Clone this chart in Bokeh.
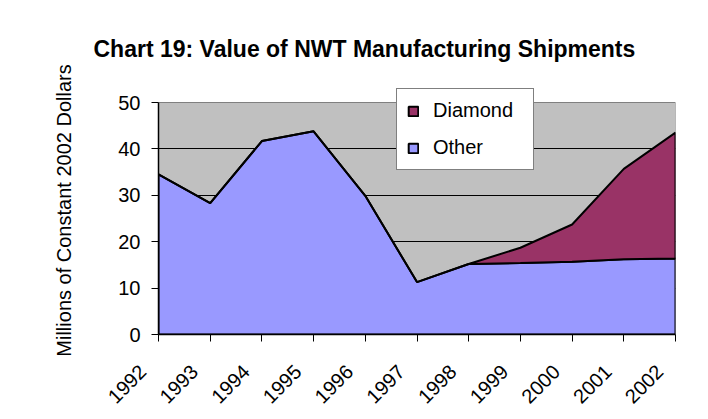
import math
from bokeh.plotting import figure
from bokeh.models import FixedTicker, Range1d, Legend, LegendItem
from bokeh.embed import file_html
from bokeh.resources import INLINE

years = [1992, 1993, 1994, 1995, 1996, 1997, 1998, 1999, 2000, 2001, 2002]
other = [34.5, 28.3, 41.7, 43.8, 29.9, 11.3, 15.2, 15.4, 15.7, 16.2, 16.4]
diamond = [0, 0, 0, 0, 0, 0, 0, 3.3, 8.0, 19.5, 27.1]
y_ticks = [0, 10, 20, 30, 40, 50]

total = [o + d for o, d in zip(other, diamond)]

FONT = "Liberation Sans"

p = figure(width=700, height=419, output_backend="svg", toolbar_location=None,
           x_range=Range1d(years[0], years[-1]), y_range=Range1d(0, 53.45),
           min_border_left=158, min_border_right=25, min_border_top=86, min_border_bottom=85)

p.title.text = "Chart 19: Value of NWT Manufacturing Shipments"
p.title.text_font = FONT
p.title.text_font_size = "23px"
p.title.text_font_style = "bold"
p.title.text_color = "black"
p.title.align = "left"
p.title.offset = -65
p.title.standoff = 49

p.background_fill_color = "white"
p.border_fill_color = "white"
p.outline_line_color = None

# plot area (grey) spanning the category extent and value axis extent
p.quad(left=years[0], right=years[-1], bottom=y_ticks[0], top=y_ticks[-1],
       fill_color="#C0C0C0", line_color="#808080", line_width=1, level="image")

# areas
px_other = years + years[::-1]
py_other = other + [0] * len(years)
r_other = p.patch(px_other, py_other, fill_color="#9999FF", line_color="black", line_width=2)

px_dia = years + years[::-1]
py_dia = total + other[::-1]
r_dia = p.patch(px_dia, py_dia, fill_color="#993366", line_color="black", line_width=2)

p.xgrid.visible = False
p.ygrid.ticker = FixedTicker(ticks=y_ticks[1:-1])
p.ygrid.grid_line_color = "black"
p.ygrid.grid_line_width = 1

p.xaxis.ticker = FixedTicker(ticks=years)
# trailing non-breaking spaces push the rotated labels down-left of their ticks
p.xaxis.major_label_overrides = {y: f"{y}\u00a0\u00a0\u00a0\u00a0" for y in years}
p.yaxis.ticker = FixedTicker(ticks=y_ticks)
p.yaxis.bounds = (y_ticks[0], y_ticks[-1])
for ax in (p.xaxis, p.yaxis):
    ax.axis_line_color = "black"
    ax.axis_line_width = 1.5
    ax.major_tick_line_color = "black"
    ax.major_tick_out = 7
    ax.major_tick_in = 0
    ax.minor_tick_line_color = None
    ax.major_label_text_font = FONT
    ax.major_label_text_font_size = "20px"
    ax.major_label_text_color = "black"

p.xaxis.major_label_orientation = math.pi / 4
p.xaxis.major_label_standoff = 11
p.yaxis.major_label_standoff = 11

p.yaxis.axis_label = "Millions of Constant 2002 Dollars"
p.yaxis.axis_label_text_font = FONT
p.yaxis.axis_label_text_font_size = "20px"
p.yaxis.axis_label_text_font_style = "normal"
p.yaxis.axis_label_text_color = "black"
p.yaxis.axis_label_standoff = 40

legend = Legend(items=[LegendItem(label="Diamond", renderers=[r_dia]),
                       LegendItem(label="Other", renderers=[r_other])],
                location=(238, 164))
legend.border_line_color = "black"
legend.border_line_width = 1
legend.background_fill_color = "white"
legend.background_fill_alpha = 1
legend.label_text_font = FONT
legend.label_text_font_size = "20px"
legend.label_text_color = "black"
legend.glyph_width = 12
legend.glyph_height = 12
legend.label_standoff = 14
legend.spacing = 14
legend.padding = 10
legend.margin = 0
legend.label_height = 20
legend.label_width = 90
p.add_layout(legend, "center")

open("out.html", "w").write(file_html(p, INLINE))
